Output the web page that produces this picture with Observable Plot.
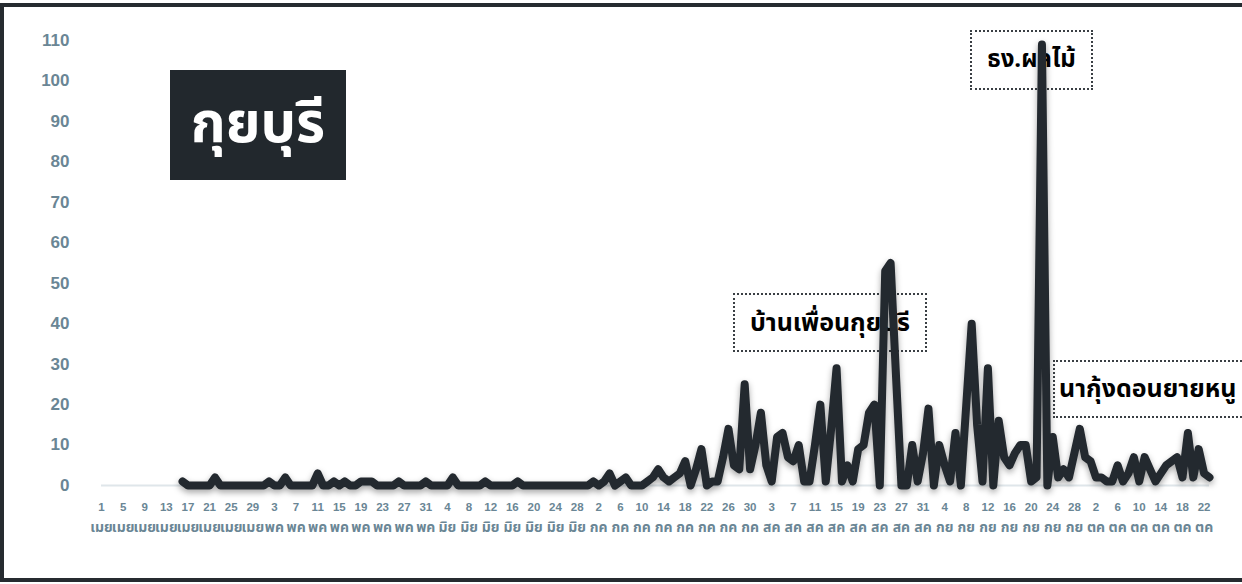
<!DOCTYPE html>
<html><head><meta charset="utf-8">
<script src="https://cdn.jsdelivr.net/npm/d3@7"></script>
<script src="https://cdn.jsdelivr.net/npm/@observablehq/plot@0.6"></script>
<style>
html,body{margin:0;padding:0;background:#fff;width:1242px;height:584px;overflow:hidden;position:relative;}
#frame{position:absolute;left:0;top:3px;width:1270px;height:579px;border:4px solid #262b30;box-sizing:border-box;z-index:0;}
.note{position:absolute;border:2px dotted #3a3f44;box-sizing:border-box;font-family:"Noto Sans Thai","Loma","Garuda","Tlwg Typo","Sarabun","Noto Sans",sans-serif;font-weight:bold;font-size:25px;color:#000;display:flex;align-items:center;z-index:1;background:transparent;white-space:nowrap;}
#title{position:absolute;left:170px;top:70px;width:176px;height:110px;background:#22282d;color:#fff;font-family:"Noto Sans Thai","Loma","Garuda","Sarabun","Noto Sans",sans-serif;font-weight:bold;font-size:56px;display:flex;align-items:center;justify-content:center;z-index:1;}
#chart{position:absolute;left:0;top:0;z-index:2;}
#chart svg{background:transparent;}
#chart text{font-weight:bold;}
</style></head><body>
<div id="frame"></div>
<div id="title">กุยบุรี</div>
<div class="note" style="left:733px;top:293px;width:194px;height:59px;justify-content:center;">บ้านเพื่อนกุยบุรี</div>
<div class="note" style="left:970px;top:30px;width:123px;height:60px;justify-content:center;font-size:24px;">ธง.ผลไม้</div>
<div class="note" style="left:1053px;top:360px;width:200px;height:58px;padding-left:4px;">นากุ้งดอนยายหนู</div>
<div id="chart"></div>
<script>
// daily counts from 1 เมย (index 0) to 23 ตค (index 205); null = no data
const cases = [
  null,null,null,null,null,null,null,null,null,null,null,null,null,null,null,
  1,0,0,0,0,0,2,0,0,0,0,0,0,0,0,
  0,1,0,0,2,0,0,0,0,0,3,0,0,1,0,1,0,0,1,1,1,0,0,0,0,1,0,0,0,0,1,
  0,0,0,0,2,0,0,0,0,0,1,0,0,0,0,0,1,0,0,0,0,0,0,0,0,0,0,0,0,0,
  1,0,1,3,0,1,2,0,0,0,1,2,4,2,1,2,3,6,0,4,9,0,1,1,7,14,5,4,25,4,10,
  18,5,1,12,13,7,6,10,1,1,10,20,1,14,29,1,5,1,9,10,18,20,0,53,55,27,0,0,10,1,8,
  19,0,10,5,1,13,0,20,40,15,1,29,0,16,7,5,8,10,10,1,2,109,0,12,2,4,2,8,14,7,
  6,2,2,1,1,5,1,3,7,1,7,4,1,3,5,6,7,2,13,2,9,3,2
];
const tickDays = ["1","5","9","13","17","21","25","29","3","7","11","15","19","23","27","31","4","8","12","16","20","24","28","2","6","10","14","18","22","26","30","3","7","11","15","19","23","27","31","4","8","12","16","20","24","28","2","6","10","14","18","22"];
const tickMonths = ["เมย","เมย","เมย","เมย","เมย","เมย","เมย","เมย","พค","พค","พค","พค","พค","พค","พค","พค","มิย","มิย","มิย","มิย","มิย","มิย","มิย","กค","กค","กค","กค","กค","กค","กค","กค","สค","สค","สค","สค","สค","สค","สค","สค","กย","กย","กย","กย","กย","กย","กย","ตค","ตค","ตค","ตค","ตค","ตค"];
const yTicks = [0,10,20,30,40,50,60,70,80,90,100,110];

const data = cases.map((v, i) => ({day: i, v}));
const tickPos = tickDays.map((d, k) => k * 4);
const thaiFont = '"Liberation Sans","Noto Sans Thai","Loma","Garuda",Arial,sans-serif';

const chart = Plot.plot({
  width: 1242,
  height: 584,
  marginLeft: 101,
  marginRight: 33,
  marginTop: 40,
  marginBottom: 99,
  style: {background: "transparent", color: "#6a8695", fontFamily: thaiFont},
  x: {domain: [0, cases.length - 1], axis: null, label: null},
  y: {domain: [0, 110], axis: null, label: null},
  marks: [
    Plot.ruleY([0], {stroke: "#dfe6ea", strokeWidth: 2}),
    Plot.axisY(yTicks, {tickSize: 0, tickPadding: 32, fontSize: 17, fill: "#6a8695", label: null, tickFormat: d => String(d)}),
    Plot.axisX(tickPos, {tickSize: 0, tickPadding: 17, fontSize: 11.5, fill: "#6a8695", label: null, tickFormat: (d) => tickDays[d / 4]}),
    Plot.axisX(tickPos, {tickSize: 0, tickPadding: 37, fontSize: 14, fill: "#6a8695", label: null, tickFormat: (d) => tickMonths[d / 4]}),
    Plot.line(data, {x: "day", y: "v", stroke: "#23292f", strokeWidth: 8, strokeLinejoin: "round", strokeLinecap: "round"})
  ]
});
document.getElementById("chart").appendChild(chart);
const lineG = chart.querySelector('g[aria-label="line"]');
if (lineG) lineG.style.filter = "drop-shadow(0px 3px 3px rgba(0,0,0,0.35))";
</script>
</body></html>
